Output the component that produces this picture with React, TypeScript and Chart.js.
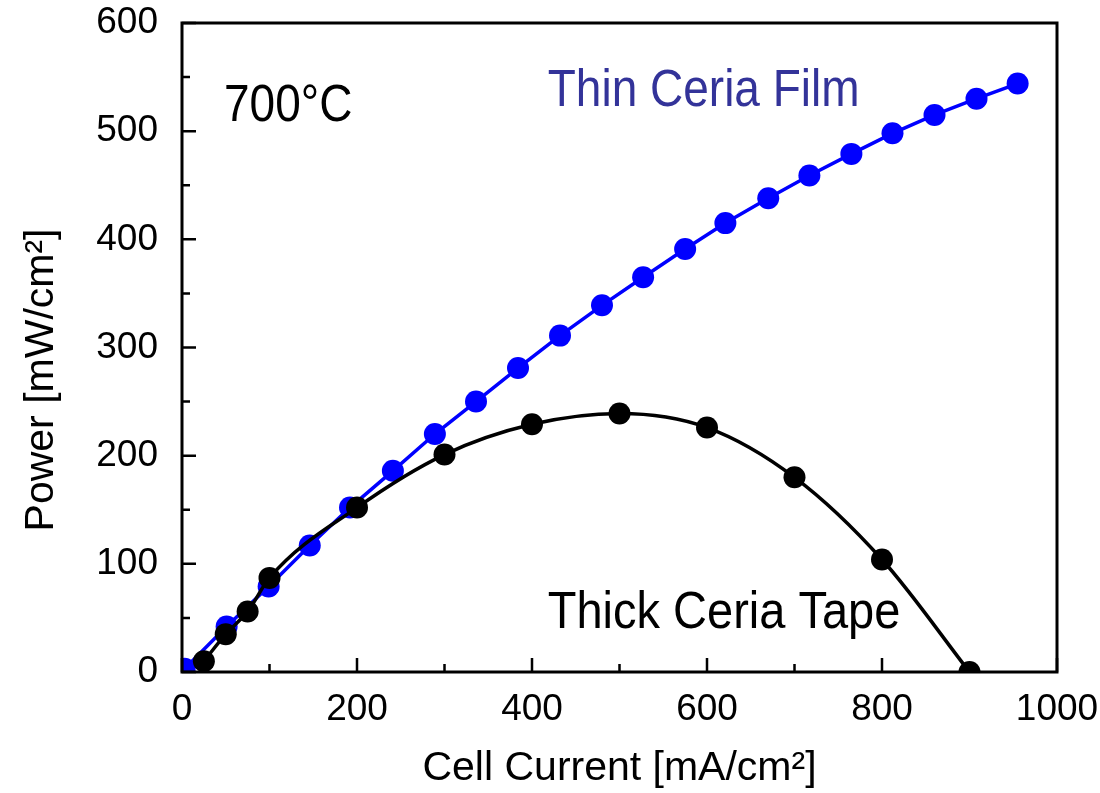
import React, { useEffect, useRef } from 'react';
import { Chart, registerables } from 'chart.js';

Chart.register(...registerables);

// ---- data ----
const thinCurrent = [3, 51, 99, 146, 192, 241, 289, 336, 384, 432, 480, 527, 575, 621, 670, 717, 765, 812, 860, 908, 955];
const thinPower = [3, 42, 79, 117, 152, 186, 220, 250, 281, 311, 339, 365, 391, 415, 438, 459, 479, 498, 515, 530, 544];
const thickCurrent = [25, 50, 75, 100, 200, 300, 400, 500, 600, 700, 800, 900];
const thickPower = [10, 35, 56, 87, 152, 201, 229, 239, 226, 180, 104, 0];

const xMajorTicks = [0, 200, 400, 600, 800, 1000];
const xMinorTicks = [100, 300, 500, 700, 900];
const yMajorTicks = [0, 100, 200, 300, 400, 500, 600];
const yMinorTicks = [50, 150, 250, 350, 450, 550];

const xTitle = 'Cell Current [mA/cm²]';
const yTitle = 'Power [mW/cm²]';
const tempLabel = '700°C';
const thinLabel = 'Thin Ceria Film';
const thickLabel = 'Thick Ceria Tape';

const FONT = "'Liberation Sans', Arial, Helvetica, sans-serif";

export default function App() {
  const canvasRef = useRef<HTMLCanvasElement | null>(null);

  useEffect(() => {
    const canvas = canvasRef.current;
    if (!canvas) return;

    const decor = {
      id: 'decor',
      afterDraw(chart: any) {
        const { ctx, chartArea: a, scales } = chart;
        const xs = scales.x;
        const ys = scales.y;
        ctx.save();
        // frame
        ctx.strokeStyle = '#000';
        ctx.lineWidth = 3;
        ctx.strokeRect(a.left, a.top, a.right - a.left, a.bottom - a.top);
        // inward tick marks
        ctx.lineWidth = 2.5;
        ctx.beginPath();
        const xt = (v: number, len: number) => {
          const px = xs.getPixelForValue(v);
          ctx.moveTo(px, a.bottom);
          ctx.lineTo(px, a.bottom - len);
        };
        const yt = (v: number, len: number) => {
          const py = ys.getPixelForValue(v);
          ctx.moveTo(a.left, py);
          ctx.lineTo(a.left + len, py);
        };
        xMajorTicks.forEach((v) => xt(v, 14));
        xMinorTicks.forEach((v) => xt(v, 8));
        yMajorTicks.forEach((v) => yt(v, 14));
        yMinorTicks.forEach((v) => yt(v, 8));
        ctx.stroke();

        // annotations (slightly tall text, as in the reference)
        const label = (text: string, xv: number, yv: number, size: number, color: string) => {
          ctx.save();
          ctx.translate(xs.getPixelForValue(xv), ys.getPixelForValue(yv));
          ctx.scale(1, 1.12);
          ctx.textBaseline = 'alphabetic';
          ctx.textAlign = 'left';
          ctx.font = `${size}px ${FONT}`;
          ctx.fillStyle = color;
          ctx.fillText(text, 0, 0);
          ctx.restore();
        };
        label(tempLabel, 48, 509, 46, '#000');
        label(thinLabel, 418, 523, 46, '#333399');
        label(thickLabel, 418, 40.5, 47, '#000');

        // y axis title
        ctx.translate(42, 380);
        ctx.rotate(-Math.PI / 2);
        ctx.font = `41px ${FONT}`;
        ctx.textAlign = 'center';
        ctx.textBaseline = 'middle';
        ctx.fillStyle = '#000';
        ctx.fillText(yTitle, 0, 0);
        ctx.restore();
      },
    };

    const chart = new Chart(canvas, {
      type: 'line',
      data: {
        datasets: [
          {
            label: 'Thick Ceria Tape',
            data: thickCurrent.map((x, i) => ({ x, y: thickPower[i] })),
            borderColor: '#000000',
            backgroundColor: '#000000',
            borderWidth: 3.5,
            pointRadius: 11,
            pointBorderWidth: 0,
            pointBackgroundColor: '#000000',
            cubicInterpolationMode: 'monotone',
            clip: 0,
            order: 0,
          },
          {
            label: 'Thin Ceria Film',
            data: thinCurrent.map((x, i) => ({ x, y: thinPower[i] })),
            borderColor: '#0000ff',
            backgroundColor: '#0000ff',
            borderWidth: 3.5,
            pointRadius: 11,
            pointBorderWidth: 0,
            pointBackgroundColor: '#0000ff',
            tension: 0,
            clip: 0,
            order: 1,
          },
        ],
      },
      options: {
        responsive: false,
        animation: false,
        events: [],
        layout: { padding: { left: 0, right: 43, top: 23, bottom: 0 } },
        plugins: {
          legend: { display: false },
          tooltip: { enabled: false },
        },
        scales: {
          x: {
            type: 'linear',
            min: 0,
            max: 1000,
            grid: { display: false },
            border: { display: false },
            ticks: {
              stepSize: 200,
              color: '#000',
              padding: 8,
              font: { family: FONT, size: 37 },
              callback: (v: any) => String(v),
            },
            title: {
              display: true,
              text: xTitle,
              color: '#000',
              padding: { top: 0, bottom: 0 },
              font: { family: FONT, size: 41 },
            },
            afterFit: (s: any) => {
              s.height = 121;
              s.paddingLeft = 0;
              s.paddingRight = 0;
            },
          },
          y: {
            type: 'linear',
            min: 0,
            max: 600,
            grid: { display: false },
            border: { display: false },
            ticks: {
              stepSize: 100,
              color: '#000',
              padding: 16,
              font: { family: FONT, size: 37 },
              callback: (v: any) => String(v),
            },
            afterFit: (s: any) => {
              s.width = 182;
              s.paddingTop = 0;
              s.paddingBottom = 0;
            },
          },
        },
      },
      plugins: [decor],
    } as any);

    return () => chart.destroy();
  }, []);

  return (
    <div style={{ position: 'absolute', left: 0, top: 0, width: 1100, height: 793, background: '#fff' }}>
      <canvas ref={canvasRef} width={1100} height={793} style={{ display: 'block', width: 1100, height: 793 }} />
    </div>
  );
}
